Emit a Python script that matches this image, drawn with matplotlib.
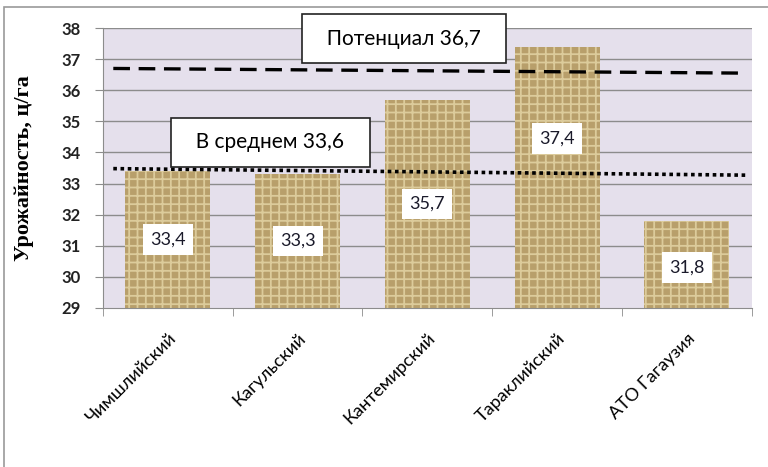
import matplotlib
matplotlib.use("Agg")
import matplotlib.pyplot as plt
from matplotlib.patches import Rectangle

plt.rcParams['font.family'] = ['Lato', 'DejaVu Sans']
plt.rcParams['hatch.linewidth'] = 1.3

districts = ['Чимшлийский', 'Кагульский', 'Кантемирский', 'Тараклийский', 'АТО Гагаузия']
yields = [33.4, 33.3, 35.7, 37.4, 31.8]
value_labels = ['33,4', '33,3', '35,7', '37,4', '31,8']
# where the value boxes sit (the 37,4 one was moved up in the original)
label_y = [31.2, 31.15, 32.35, 34.45, 30.3]

potential_line = [36.7, 36.55]
average_line = [33.48, 33.27]
line_x = [-0.42, 4.45]

fig = plt.figure(figsize=(7.68, 4.67), dpi=100)
ax = fig.add_axes([0.134, 0.3405, 0.845, 0.5995])

# outer frame of the chart object
fig.patches.append(Rectangle((4 / 768, -0.1), 1.1, 1 - 7 / 467 + 0.1, transform=fig.transFigure,
                             fill=False, edgecolor='#9a9a9a', linewidth=1.2))

ax.set_facecolor('#e5e0ec')
for v in range(30, 39):
    ax.axhline(v, color='#8c8c8c', linewidth=1.0, zorder=1)

x = list(range(len(districts)))
ax.bar(x, [y - 29 for y in yields], bottom=29, width=0.655, color='#b89f6b',
       edgecolor='#dccb9b', linewidth=0, hatch='++', zorder=2)

ax.plot(line_x, potential_line, color='black', linestyle=(0, (5, 2.6)), linewidth=2.4, zorder=3)
ax.plot(line_x, average_line, color='black', linestyle=(0, (1, 1)), linewidth=2.6, zorder=3)

for xi, ly, t in zip(x, label_y, value_labels):
    ax.text(xi, ly, t, ha='center', va='center', fontsize=13, color='#1a1a2a', zorder=4,
            bbox=dict(boxstyle='square,pad=0.4', facecolor='white', edgecolor='none'))

ax.text(1.82, 37.66, '  Потенциал 36,7  ', ha='center', va='center', fontsize=15, zorder=5,
        bbox=dict(boxstyle='square,pad=0.7', facecolor='white', edgecolor='#222222', linewidth=1.2))
ax.text(0.79, 34.33, '  В среднем 33,6  ', ha='center', va='center', fontsize=15, zorder=5,
        bbox=dict(boxstyle='square,pad=0.7', facecolor='white', edgecolor='#222222', linewidth=1.2))

ax.set_xlim(-0.5, 4.5)
ax.set_ylim(29, 38)
ax.set_yticks(range(29, 39))
ax.set_yticklabels([str(v) for v in range(29, 39)], fontsize=12, fontweight='bold', color='#222222')
ax.set_xticks(x)
ax.set_xticklabels(districts, rotation=45, ha='right', rotation_mode='anchor', fontsize=13)
ax.set_xticks([i - 0.5 for i in range(len(districts) + 1)], minor=True)
ax.tick_params(axis='x', which='major', length=0, pad=16)
ax.tick_params(axis='x', which='minor', length=6, color='#8c8c8c')
ax.tick_params(axis='y', length=6, color='#8c8c8c', pad=10)

for side in ['top', 'right']:
    ax.spines[side].set_visible(False)
ax.spines['left'].set_color('#8c8c8c')
ax.spines['bottom'].set_color('#8c8c8c')

ax.set_ylabel('Урожайность, ц/га', family='Liberation Serif', fontweight='bold', fontsize=16, labelpad=20)

fig.savefig('out.png', dpi=100)
